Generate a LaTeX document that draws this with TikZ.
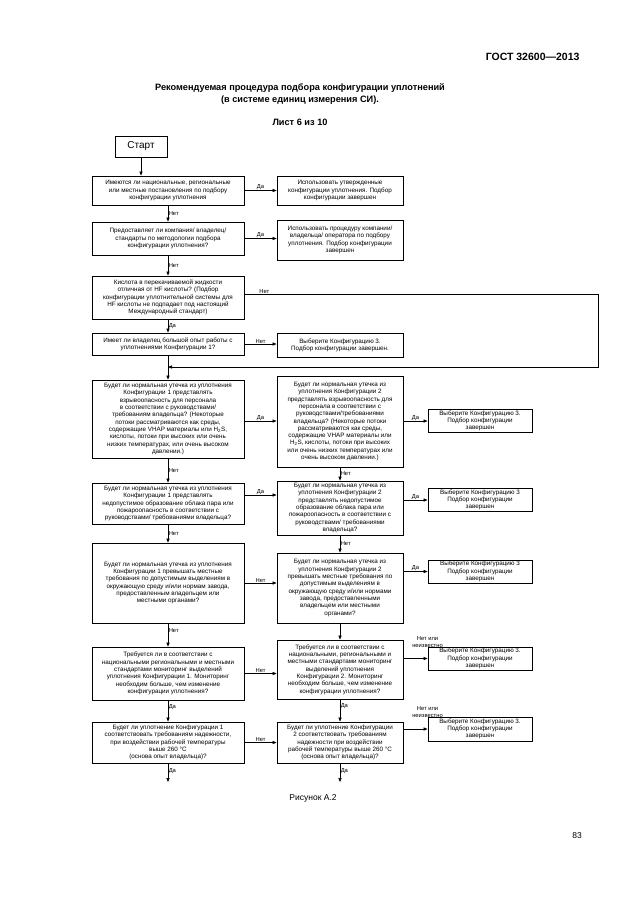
\documentclass[tikz,border=0pt]{standalone}
\usepackage{fontspec}
\setmainfont{Liberation Sans}
\usetikzlibrary{arrows.meta}
\begin{document}
\begin{tikzpicture}[x=1pt,y=-1pt,
  box/.style={draw,line width=0.9pt,align=center,font=\fontsize{6.3}{7.3}\selectfont,inner sep=1pt},
  lw/.style={minimum width=152pt},
  rw/.style={minimum width=126pt},
  fw/.style={minimum width=104pt},
  arr/.style={line width=0.6pt,-{Triangle[length=4pt,width=3.2pt]}},
  ln/.style={line width=0.6pt},
  lbl/.style={font=\fontsize{5.8}{6.6}\selectfont,inner sep=0.5pt,align=left},
  lbl2/.style={font=\fontsize{5.8}{6.6}\selectfont,inner sep=0.5pt,align=center,anchor=south},
]
\useasboundingbox (0,0) rectangle (630,913);

\node[anchor=east,font=\bfseries\fontsize{10.5}{12}\selectfont] (hdr) at (583,57) {ГОСТ 32600—2013};
\node[align=center,font=\bfseries\fontsize{9.2}{11.5}\selectfont] (title) at (300,94) {Рекомендуемая процедура подбора конфигурации уплотнений\\(в системе единиц измерения СИ).};
\node[font=\bfseries\fontsize{9.2}{11}\selectfont] (sheet) at (300,122) {Лист 6 из 10};

\node[box,minimum width=52pt,minimum height=21pt,font=\fontsize{10}{12}\selectfont] (start) at (141,146.5) {Старт};

% row 1
\node[box,lw,minimum height=29pt] (a1) at (168,190.5) {Имеются ли национальные, региональные\\или местные постановления по подбору\\конфигурации уплотнения};
\node[box,rw,minimum height=29pt] (b1) at (340,190.5) {Использовать утвержденные\\конфигурации уплотнения. Подбор\\конфигурации завершен};
% row 2
\node[box,lw,minimum height=33pt] (a2) at (168,238.5) {Предоставляет ли компания/ владелец/\\стандарты по методологии подбора\\конфигурации уплотнения?};
\node[box,rw,minimum height=40pt] (b2) at (340,240) {Использовать процедуру компании/\\владельца/ оператора по подбору\\уплотнения. Подбор конфигурации\\завершен};
% row 3
\node[box,lw,minimum height=43pt] (a3) at (168,297.5) {Кислота в перекачиваемой жидкости\\отличная от HF кислоты? (Подбор\\конфигурации уплотнительной системы для\\HF кислоты не подпадает под настоящий\\Международный стандарт)};
% row 4
\node[box,lw,minimum height=22pt] (a4) at (168,344) {Имеет ли владелец большой опыт работы с\\уплотнениями Конфигурации 1?};
\node[box,rw,minimum height=24pt] (b4) at (340,345) {Выберите Конфигурацию 3.\\Подбор конфигурации завершен.};
\coordinate (m) at (168,367);
\coordinate (r1) at (598,294);
\coordinate (r2) at (598,367);
% row 5
\node[box,lw,minimum height=78pt] (a5) at (168,419) {Будет ли нормальная утечка из уплотнения\\Конфигурации 1 представлять\\взрывоопасность для персонала\\в соответствии с руководствами/\\требованиям владельца? (Некоторые\\потоки рассматриваются как среды,\\содержащие VHAP материалы или H\textsubscript{2}S,\\кислоты, потоки при высоких или очень\\низких температурах, или очень высоком\\давлении.)};
\node[box,rw,minimum height=91pt] (b5) at (340,421.5) {Будет ли нормальная утечка из\\уплотнения Конфигурации 2\\представлять взрывоопасность для\\персонала в соответствии с\\руководствами/требованиями\\владельца? (Некоторые потоки\\рассматриваются как среды,\\содержащие VHAP материалы или\\H\textsubscript{2}S, кислоты, потоки при высоких\\или очень низких температурах или\\очень высоком давлении.)};
\node[box,fw,minimum height=23pt] (c5) at (480,421) {Выберите Конфигурацию 3.\\Подбор конфигурации\\завершен};
% row 6
\node[box,lw,minimum height=41pt] (a6) at (168,503.5) {Будет ли нормальная утечка из уплотнения\\Конфигурации 1 представлять\\недопустимое образование облака пара или\\пожароопасность в соответствии с\\руководствами/ требованиями владельца?};
\node[box,rw,minimum height=54pt] (b6) at (340,508) {Будет ли нормальная утечка из\\уплотнения Конфигурации 2\\представлять недопустимое\\образование облака пара или\\пожароопасность в соответствии с\\руководствами/ требованиями\\владельца?};
\node[box,fw,minimum height=23pt] (c6) at (480,500) {Выберите Конфигурацию 3\\Подбор конфигурации\\завершен};
% row 7
\node[box,lw,minimum height=80pt] (a7) at (168,583) {Будет ли нормальная утечка из уплотнения\\Конфигурации 1 превышать местные\\требования по допустимым выделениям в\\окружающую среду и/или нормам завода,\\предоставленным владельцем или\\местными органами?};
\node[box,rw,minimum height=70pt] (b7) at (340,588) {Будет ли нормальная утечка из\\уплотнения Конфигурации 2\\превышать местные требования по\\допустимым выделениям в\\окружающую среду и/или нормами\\завода, предоставленными\\владельцем или местными\\органами?};
\node[box,fw,minimum height=23pt] (c7) at (480,571.5) {Выберите Конфигурацию 3\\Подбор конфигурации\\завершен};
% row 8
\node[box,lw,minimum height=53pt] (a8) at (168,673.5) {Требуется ли в соответствии с\\национальными региональными и местными\\стандартами мониторинг выделений\\уплотнения Конфигурации 1. Мониторинг\\необходим больше, чем изменение\\конфигурации уплотнения?};
\node[box,rw,minimum height=59pt] (b8) at (340,669.5) {Требуется ли в соответствии с\\национальными, региональными и\\местными стандартами мониторинг\\выделений уплотнения\\Конфигурации 2. Мониторинг\\необходим больше, чем изменение\\конфигурации уплотнения?};
\node[box,fw,minimum height=23pt] (c8) at (480,658.5) {Выберите Конфигурацию 3.\\Подбор конфигурации\\завершен};
% row 9
\node[box,lw,minimum height=41pt] (a9) at (168,742.5) {Будет ли уплотнение Конфигурации 1\\соответствовать требованиям надежности,\\при воздействии рабочей температуры\\выше 260 °C\\(основа опыт владельца)?};
\node[box,rw,minimum height=41pt] (b9) at (340,742.5) {Будет ли уплотнение Конфигурации\\2 соответствовать требованиям\\надежности при воздействии\\рабочей температуры выше 260 °C\\(основа опыт владельца)?};
\node[box,fw,minimum height=24pt] (c9) at (480,729) {Выберите Конфигурацию 3.\\Подбор конфигурации\\завершен};
\coordinate (ea) at (168,782);
\coordinate (eb) at (340,782);

\node[font=\fontsize{8.5}{10}\selectfont] (cap) at (313,798) {Рисунок А.2};
\node[font=\fontsize{8.5}{10}\selectfont] (pg) at (577,836) {83};

% vertical connectors
\draw[arr] (start) -- (start.south |- a1.north);
\draw[arr] (a1.south) -- (a2.north) node[lbl,midway,right] {Нет};
\draw[arr] (a2.south) -- (a3.north) node[lbl,midway,right] {Нет};
\draw[arr] (a3.south) -- (a4.north) node[lbl,midway,right] {Да};
\draw[arr] (a4.south) -- (a5.north);
\draw[arr] (a5.south) -- (a6.north) node[lbl,midway,right] {Нет};
\draw[arr] (a6.south) -- (a7.north) node[lbl,midway,right] {Нет};
\draw[arr] (a7.south) -- (a8.north) node[lbl,pos=0.3,right] {Нет};
\draw[arr] (a8.south) -- (a9.north) node[lbl,pos=0.3,right] {Да};
\draw[arr] (a9.south) -- (ea) node[lbl,pos=0.4,right] {Да};
\draw[arr] (b5.south) -- (b6.north) node[lbl,midway,right] {Нет};
\draw[arr] (b6.south) -- (b7.north) node[lbl,midway,right] {Нет};
\draw[arr] (b7.south) -- (b8.north);
\draw[arr] (b8.south) -- (b9.north) node[lbl,pos=0.3,right] {Да};
\draw[arr] (b9.south) -- (eb) node[lbl,pos=0.4,right] {Да};

% horizontal connectors
\draw[arr] (a1.east) -- (b1.west) node[lbl,midway,above] {Да};
\draw[arr] (a2.east) -- (a2.east -| b2.west) node[lbl,midway,above] {Да};
\draw[ln] (a3.east |- r1) -- (r1) node[lbl,pos=0.04,above right] {Нет};
\draw[arr] (r1) -- (r2) -- (m);
\draw[arr] (a4.east) -- (a4.east -| b4.west) node[lbl,midway,above] {Нет};
\draw[arr] (a5.east |- c5.west) -- (b5.west |- c5.west) node[lbl,midway,above] {Да};
\draw[arr] (b5.east |- c5.west) -- (c5.west) node[lbl,midway,above] {Да};
\draw[arr] (a6.east |- 0,495) -- (b6.west |- 0,495) node[lbl,midway,above] {Да};
\draw[arr] (b6.east |- c6.west) -- (c6.west) node[lbl,midway,above] {Да};
\draw[arr] (a7.east) -- (a7.east -| b7.west) node[lbl,midway,above] {Нет};
\draw[arr] (b7.east |- c7.west) -- (c7.west) node[lbl,midway,above] {Да};
\draw[arr] (a8.east) -- (a8.east -| b8.west) node[lbl,midway,above] {Нет};
\draw[arr] (b8.east |- c8.west) -- (c8.west);
\node[lbl2] (n8) at ([yshift=-1.5pt]c8.north west) {Нет или\\неизвестно};
\draw[arr] (a9.east) -- (a9.east -| b9.west) node[lbl,midway,above] {Нет};
\draw[arr] (b9.east |- c9.west) -- (c9.west);
\node[lbl2] (n9) at ([yshift=-1.5pt]c9.north west) {Нет или\\неизвестно};
\end{tikzpicture}
\end{document}
